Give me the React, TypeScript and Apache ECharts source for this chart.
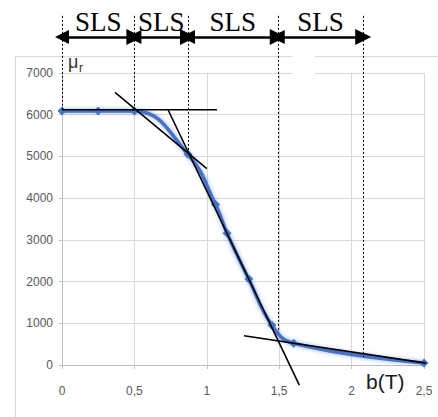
import React, { useEffect, useRef } from "react";
import * as echarts from "echarts";

// Measured curve μr(b)
const bValues = [0, 0.25, 0.5, 0.87, 1.06, 1.14, 1.29, 1.45, 1.6, 2.5];
const muValues = [6090, 6090, 6090, 5050, 3850, 3160, 2060, 950, 520, 50];

// Tangent (asymptote) lines drawn in black
const tangentLines: number[][][] = [
  [[0, 6120], [1.07, 6120]],
  [[0.366, 6536], [1.0, 4708]],
  [[0.734, 6107], [1.639, -481]],
  [[1.257, 700], [2.6, 0]],
];

// Zone boundaries (dotted verticals) and where each one ends on the curve
const zoneBounds = [0, 0.5, 0.87, 1.49, 2.08];
const zoneBoundEnds = [6100, 6100, 5050, 790, 190];
const zoneLabels = ["SLS", "SLS", "SLS", "SLS"];
const dottedTop = 8370;
const arrowLevel = 7864;

const xTicks = ["0", "0,5", "1", "1,5", "2", "2,5"];

export default function App() {
  const ref = useRef<HTMLDivElement>(null);
  useEffect(() => {
    if (!ref.current) return;
    const chart = echarts.init(ref.current, null, { renderer: "svg" });
    const axisFont = "'Liberation Sans Narrow', 'Liberation Sans', Arial, sans-serif";
    const curveData = bValues.map((b, i) => [b, muValues[i]]);
    const dotted = zoneBounds.map((x, i) => ({
      coords: [[x, dottedTop], [x, zoneBoundEnds[i]]],
    }));
    const arrows = zoneLabels.map((lab, i) => ({
      name: lab,
      coords: [[zoneBounds[i], arrowLevel], [zoneBounds[i + 1], arrowLevel]],
    }));
    chart.setOption({
      animation: false,
      backgroundColor: "#ffffff",
      grid: { left: 62, right: 14, top: 73, bottom: 52, containLabel: false },
      xAxis: {
        type: "value",
        min: 0,
        max: 2.5,
        interval: 0.5,
        axisLine: { show: true, lineStyle: { color: "#bfbfbf", width: 1 } },
        axisTick: { show: true, length: 4, lineStyle: { color: "#bfbfbf" } },
        splitLine: { show: true, lineStyle: { color: "#d9d9d9", width: 1 } },
        axisLabel: {
          margin: 20,
          color: "#595959",
          fontSize: 12,
          fontFamily: axisFont,
          formatter: (v: number) => xTicks[Math.round(v / 0.5)] ?? String(v),
        },
      },
      yAxis: {
        type: "value",
        min: 0,
        max: 7000,
        interval: 1000,
        axisLine: { show: true, lineStyle: { color: "#bfbfbf", width: 1 } },
        axisTick: { show: true, length: 3, lineStyle: { color: "#bfbfbf" } },
        splitLine: { show: true, lineStyle: { color: "#d9d9d9", width: 1 } },
        axisLabel: {
          margin: 9,
          color: "#595959",
          fontSize: 12,
          fontFamily: axisFont,
          formatter: (v: number) => String(v),
        },
      },
      series: [
        {
          type: "line",
          data: curveData,
          smooth: 0.45,
          smoothConstraint: false,
          symbol: "diamond",
          symbolSize: 9,
          itemStyle: { color: "#4472c4" },
          lineStyle: {
            color: "#4472c4",
            width: 3.5,
            shadowColor: "rgba(68,114,196,0.6)",
            shadowBlur: 4,
          },
          z: 2,
        },
        ...tangentLines.map((seg) => ({
          type: "line",
          data: seg,
          clip: false,
          symbol: "none",
          lineStyle: { color: "#000000", width: 1.6 },
          z: 3,
        })),
        {
          type: "lines",
          coordinateSystem: "cartesian2d",
          clip: false,
          data: dotted,
          symbol: ["none", "none"],
          lineStyle: { color: "#000000", width: 1, type: [2, 2], opacity: 1 },
          z: 4,
        },
        {
          type: "lines",
          coordinateSystem: "cartesian2d",
          clip: false,
          data: arrows,
          symbol: ["triangle", "triangle"],
          symbolSize: [14, 16],
          lineStyle: { color: "#000000", width: 2.5, type: "solid", opacity: 1 },
          label: {
            show: true,
            position: "middle",
            distance: 1,
            formatter: "{b}",
            color: "#000000",
            fontSize: 27,
            fontFamily: "'Liberation Serif', 'Times New Roman', serif",
          },
          z: 5,
        },
      ],
      graphic: [
        {
          type: "rect",
          shape: { x: 15.5, y: 56.5, width: 440, height: 380 },
          style: { fill: "none", stroke: "#d9d9d9", lineWidth: 1 },
          silent: true,
          z: -1,
        },
        {
          type: "rect",
          shape: { x: 292, y: 50, width: 23, height: 26 },
          style: { fill: "#ffffff" },
          silent: true,
          z: 10,
        },
        {
          type: "text",
          x: 68,
          y: 53,
          style: {
            text: "μ",
            fontSize: 18,
            fontFamily: "'Liberation Sans', Arial, sans-serif",
            fill: "#333333",
            verticalAlign: "top",
          },
          z: 10,
        },
        {
          type: "text",
          x: 79,
          y: 62,
          style: {
            text: "r",
            fontSize: 12,
            fontFamily: "'Liberation Sans', Arial, sans-serif",
            fill: "#333333",
            verticalAlign: "top",
          },
          z: 10,
        },
        {
          type: "text",
          x: 366,
          y: 381,
          style: {
            text: "b(T)",
            fontSize: 21,
            fontFamily: "'Liberation Sans', Arial, sans-serif",
            fill: "#1a1a1a",
            verticalAlign: "middle",
          },
          z: 10,
        },
      ],
    });
    return () => chart.dispose();
  }, []);
  return (
    <div
      ref={ref}
      style={{ position: "fixed", left: 0, top: 0, width: 438, height: 417 }}
    />
  );
}
